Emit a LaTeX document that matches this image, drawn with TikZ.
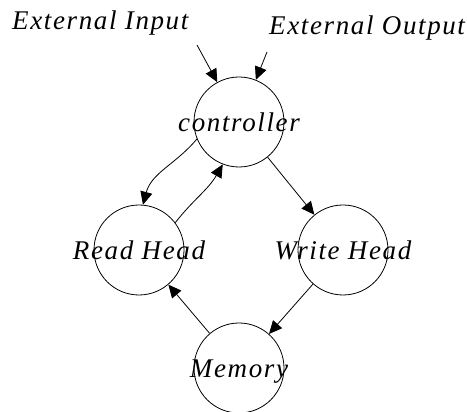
\documentclass[tikz,border=0pt]{standalone}
\usepackage{fontspec}
\setmainfont{Liberation Serif}
\newfontfamily\lblfont{Liberation Serif}[LetterSpace=6]
\usetikzlibrary{arrows.meta}
\begin{document}
\begin{tikzpicture}[x=1pt,y=1pt,
  state/.style={circle,draw,line width=0.8pt,minimum size=90pt,inner sep=0pt,
    font=\lblfont\itshape\fontsize{27}{27}\selectfont,text height=20pt,text depth=0pt},
  lbl/.style={font=\lblfont\itshape\fontsize{27}{27}\selectfont,inner sep=0pt,anchor=base west},
  arr/.style={line width=0.8pt,-{Triangle[length=13pt,width=12pt]}}]
\useasboundingbox[fill=white] (0,0) rectangle (467,412);
\node[state] (c) at (239,290) {\makebox[0pt]{controller}};
\node[state] (r) at (139,162) {\makebox[0pt]{Read Head}};
\node[state] (w) at (343,162) {\makebox[0pt]{Write Head}};
\node[state] (m) at (239,44) {\makebox[0pt]{Memory}};
\node[lbl] (ti) at (12,382) {External Input};
\node[lbl] (to) at (269,377) {External Output};
\coordinate (ein) at (197,367);
\coordinate (eout) at (267,360);
\draw[arr] (ein) -- (c);
\draw[arr] (eout) -- (c);
\draw[arr] (c.202) to[out=230,in=75] (r.85);
\draw[arr] (r.37) to[out=52,in=240] (c.249);
\draw[arr] (c) -- (w);
\draw[arr] (w) -- (m);
\draw[arr] (m) -- (r);
\end{tikzpicture}
\end{document}
